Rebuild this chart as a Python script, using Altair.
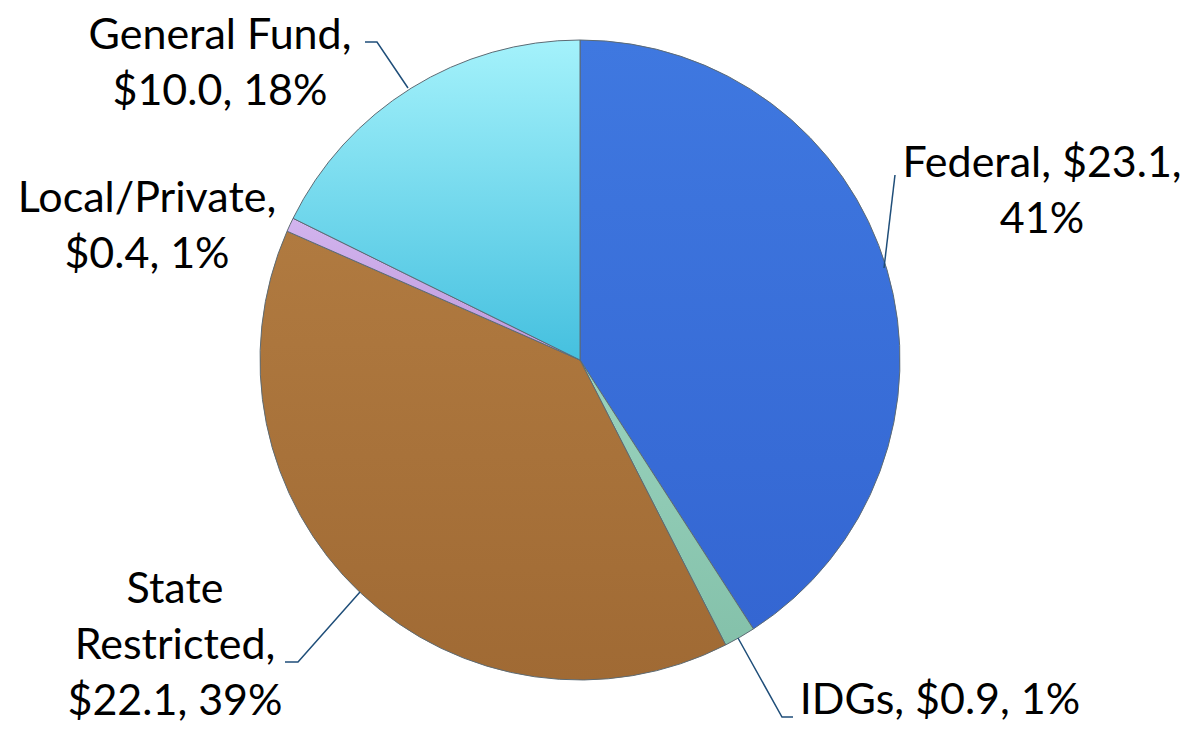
import altair as alt
import pandas as pd

categories = ["Federal", "IDGs", "State Restricted", "Local/Private", "General Fund"]
values = [23.1, 0.9, 22.1, 0.4, 10.0]
percents = ["41%", "1%", "39%", "1%", "18%"]
# top / bottom colours of each slice's shading
colors_top = ["#3F78E0", "#9AD3BE", "#B07A40", "#D2B4EE", "#A4F2FB"]
colors_bottom = ["#3466D2", "#84C1AA", "#A06A34", "#BE9ADC", "#45C0DF"]

# label text lines (how Excel wrapped them)
label_lines = [
    ["Federal, $23.1,", "41%"],
    ["IDGs, $0.9, 1%"],
    ["State", "Restricted,", "$22.1, 39%"],
    ["Local/Private,", "$0.4, 1%"],
    ["General Fund,", "$10.0, 18%"],
]
# first-line centre of each label (pixels within the view)
label_x = [1034, 932, 167, 139, 212]
label_y = [156, 693, 582, 191, 28]

# leader lines (pixels within the view)
leaders = {
    "Federal": [(876, 260), (887, 167)],
    "IDGs": [(730, 630), (774, 709), (785, 709)],
    "State Restricted": [(352, 584), (290, 654), (277, 654)],
    "General Fund": [(357, 34), (369, 34), (400, 80)],
}

CX, CY, R = 572, 352, 320
total = sum(values)

pie_df = pd.DataFrame({
    "category": categories,
    "value": values,
    "order": list(range(len(categories))),
})

base = alt.Chart(pie_df).transform_window(
    cum="sum(value)", sort=[alt.SortField("order")], frame=[None, 0]
).transform_calculate(start="datum.cum - datum.value")

slices = []
for cat, ct, cb in zip(categories, colors_top, colors_bottom):
    grad = alt.Gradient(
        gradient="linear", x1=0, y1=0, x2=0, y2=1,
        stops=[alt.GradientStop(color=ct, offset=0), alt.GradientStop(color=cb, offset=1)],
    )
    slices.append(
        base.transform_filter(alt.datum.category == cat).mark_arc(
            radius=R, stroke="#5d6b74", strokeWidth=1, color=grad
        ).encode(
            theta=alt.Theta("start:Q", scale=alt.Scale(domain=[0, total])),
            theta2="cum:Q",
            x=alt.value(CX),
            y=alt.value(CY),
        )
    )

lab_df = pd.DataFrame({
    "label": label_lines,
    "x": label_x,
    "y": label_y,
})

labels = alt.Chart(lab_df).mark_text(
    font="Lato", fontSize=43, color="#000000", lineHeight=56, baseline="middle", align="center"
).encode(
    x=alt.X("x:Q", scale=None),
    y=alt.Y("y:Q", scale=None),
    text="label",
)

rows = []
for k, pts in leaders.items():
    for i, (px, py) in enumerate(pts):
        rows.append({"series": k, "i": i, "x": px, "y": py})
lead_df = pd.DataFrame(rows)

lines = alt.Chart(lead_df).mark_line(color="#1F4E79", strokeWidth=1.5).encode(
    x=alt.X("x:Q", scale=None),
    y=alt.Y("y:Q", scale=None),
    detail="series:N",
    order="i:Q",
)

chart = alt.layer(*slices, lines, labels).properties(
    width=1173, height=716, padding=0, autosize="none"
).configure_view(stroke=None)

chart.save("out.html", embed_options={"renderer": "svg", "actions": False})
